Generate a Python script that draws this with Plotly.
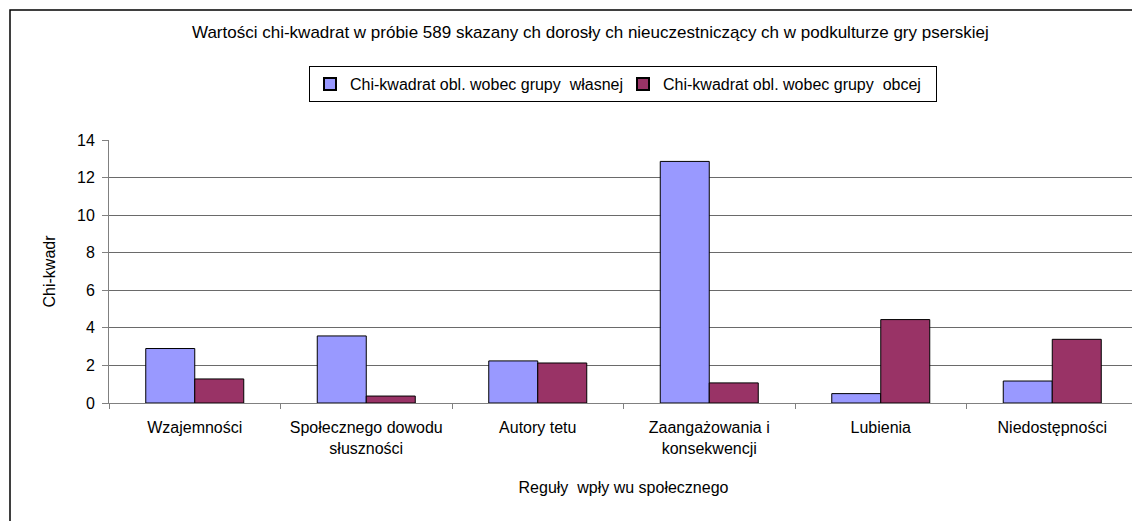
import plotly.graph_objects as go

categories = ["Wzajemności", "Społecznego dowodu<br>słuszności", "Autory tetu",
              "Zaangażowania i<br>konsekwencji", "Lubienia", "Niedostępności"]
own_group = [2.90, 3.57, 2.24, 12.86, 0.50, 1.17]
other_group = [1.28, 0.37, 2.13, 1.07, 4.44, 3.39]
series_names = ["Chi-kwadrat obl. wobec grupy  własnej", "Chi-kwadrat obl. wobec grupy  obcej"]
y_ticks = [0, 2, 4, 6, 8, 10, 12, 14]

FONT = "Liberation Sans, Arial, sans-serif"
FS = 16

fig = go.Figure()
fig.add_trace(go.Bar(x=categories, y=own_group, name=series_names[0],
                     marker=dict(color="#9999FF", line=dict(color="black", width=1))))
fig.add_trace(go.Bar(x=categories, y=other_group, name=series_names[1],
                     marker=dict(color="#993366", line=dict(color="black", width=1))))

# page body has an 8px margin; positions below are reference pixels minus 8
OFF = 8
W, H = 1140 - OFF, 521 - OFF
L, R, T, B = 109 - OFF, 1138 - OFF, 140 - OFF, 403 - OFF
pw, ph = R - L, B - T

def px_x(p):
    return (p - OFF - L) / pw

def px_y(p):
    return (B - (p - OFF)) / ph

fig.update_layout(
    width=W, height=H,
    margin=dict(l=L, r=W - R, t=T, b=H - B),
    paper_bgcolor="white", plot_bgcolor="white",
    font=dict(family=FONT, size=FS, color="black"),
    barmode="group", bargap=0.4286, bargroupgap=0,
    showlegend=True,
    legend=dict(orientation="h", x=px_x(623), y=px_y(66), xanchor="center", yanchor="top",
                bordercolor="black", borderwidth=1, bgcolor="white",
                font=dict(family=FONT, size=16), itemwidth=30,
                entrywidth=268, entrywidthmode="pixels",
                itemsizing="constant", traceorder="normal"),
    xaxis=dict(showline=True, linecolor="#808080", linewidth=1, ticks="outside",
               tickson="boundaries", ticklen=5, tickcolor="#808080",
               ticklabelstandoff=10,
               title=dict(text="Reguły  wpły wu społecznego", standoff=25,
                          font=dict(family=FONT, size=FS)),
               tickfont=dict(family=FONT, size=FS)),
    yaxis=dict(range=[0, 14], tickvals=y_ticks, showgrid=True, gridcolor="#6a6a6a",
               gridwidth=1, showline=True, linecolor="#808080", linewidth=1,
               ticks="outside", ticklen=6, tickcolor="#808080",
               ticklabelstandoff=4,
               title=dict(text="Chi-kwadr", standoff=17, font=dict(family=FONT, size=FS)),
               tickfont=dict(family=FONT, size=FS), zeroline=False),
    annotations=[dict(text="Wartości chi-kwadrat w próbie 589 skazany ch dorosły ch nieuczestniczący ch w podkulturze gry pserskiej",
                      xref="paper", yref="paper", x=px_x(590), y=px_y(32),
                      xanchor="center", yanchor="middle", showarrow=False,
                      font=dict(family=FONT, size=17))],
    shapes=[dict(type="rect", xref="paper", yref="paper",
                 x0=px_x(10), y0=px_y(600), x1=px_x(1250), y1=px_y(10),
                 line=dict(color="black", width=1.5), fillcolor="rgba(0,0,0,0)", layer="below")],
)

fig.write_html("out.html")
